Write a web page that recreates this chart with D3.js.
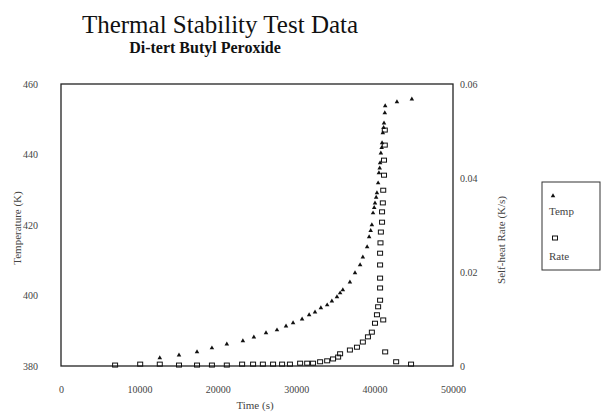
<!DOCTYPE html>
<html>
<head>
<meta charset="utf-8">
<script src="https://cdn.jsdelivr.net/npm/d3@7/dist/d3.min.js"></script>
<style>
	body { margin: 0; background: #fff; }
	text { font-family: "Liberation Serif", "Times New Roman", serif; }
</style>
</head>
<body>
<svg id="chart" width="602" height="414"></svg>
<script>
// values
var tempTime = [12600, 15050, 17350, 19250, 21150, 23200, 24600, 26150, 27550, 28700,
	29600, 30750, 31650, 32400, 33150, 33950, 34550, 35200, 35600, 35950,
	36850, 37500, 38150, 38500, 39050, 39300, 39500, 39650, 39800, 39950,
	40050, 40200, 40300, 40450, 40550, 40650, 40700, 40800, 40900, 40950,
	41050, 41150, 41200, 41300, 41350, 42850, 44750];
var tempK = [382.3, 383.1, 384.0, 385.1, 386.2, 387.1, 388.2, 389.4, 390.2, 391.3,
	392.2, 393.3, 394.5, 395.3, 396.5, 397.3, 398.4, 399.6, 400.7, 401.6,
	403.8, 406.4, 408.7, 410.9, 413.8, 416.6, 418.4, 420.0, 423.4, 424.9,
	426.2, 427.8, 429.1, 431.9, 434.8, 436.1, 437.6, 440.4, 441.9, 443.3,
	446.1, 447.6, 448.9, 451.8, 453.8, 454.9, 455.7];

var rateTime = [6900, 10100, 12600, 15050, 17350, 19250, 21150, 23100, 24500, 25750,
	27050, 28200, 29200, 30500, 31400, 32150, 33050, 33950, 34700, 35350,
	35600, 36850, 37750, 38500, 39150, 39650, 40050, 40300, 40450, 40700,
	40700, 40700, 40700, 40700, 40750, 40800, 40950, 40950, 41050, 41100,
	41200, 41200, 41300, 41300, 41100, 41350, 42750, 44650];
var rateVal = [0.0002, 0.0004, 0.0004, 0.0002, 0.0002, 0.0002, 0.0002, 0.0004, 0.0004, 0.0004,
	0.0004, 0.0004, 0.0004, 0.0006, 0.0006, 0.0006, 0.0009, 0.0011, 0.0015, 0.0019,
	0.0026, 0.0034, 0.0040, 0.0051, 0.0062, 0.0072, 0.0091, 0.0109, 0.0126, 0.0140,
	0.0166, 0.0187, 0.0215, 0.0240, 0.0262, 0.0285, 0.0306, 0.0328, 0.0347, 0.0374,
	0.0406, 0.0438, 0.0470, 0.0502, 0.0098, 0.0030, 0.0009, 0.0004];

var xTicks = [0, 10000, 20000, 30000, 40000, 50000];
var tempTicks = [380, 400, 420, 440, 460];
var rateTicks = [0, 0.02, 0.04, 0.06];
var legendLabels = ["Temp", "Rate"];

var svg = d3.select("#chart");
var plot = { left: 61, top: 84, right: 453, bottom: 366 };

var x = d3.scaleLinear().domain([0, 50000]).range([plot.left, plot.right]);
var yT = d3.scaleLinear().domain([380, 460]).range([plot.bottom, plot.top]);
var yR = d3.scaleLinear().domain([0, 0.06]).range([plot.bottom, plot.top]);

svg.append("rect").attr("width", 602).attr("height", 414).attr("fill", "#fff");

// titles
svg.append("text").attr("x", 220).attr("y", 33).attr("text-anchor", "middle")
	.style("font-size", "25px").attr("fill", "#111").text("Thermal Stability Test Data");
svg.append("text").attr("x", 205).attr("y", 53).attr("text-anchor", "middle")
	.style("font-size", "16px").style("font-weight", "bold").attr("fill", "#111")
	.text("Di-tert Butyl Peroxide");

// axes (no tick marks, only labels)
var styleAxis = function (g) {
	g.select(".domain").remove();
	g.selectAll("line").remove();
	g.selectAll("text").style("font-size", "10px").attr("fill", "#444");
};
svg.append("g").attr("transform", "translate(0," + plot.bottom + ")")
	.call(d3.axisBottom(x).tickValues(xTicks).tickSize(0).tickPadding(20).tickFormat(d3.format("d")))
	.call(styleAxis);
svg.append("g").attr("transform", "translate(" + plot.left + ",0)")
	.call(d3.axisLeft(yT).tickValues(tempTicks).tickSize(0).tickPadding(23).tickFormat(d3.format("d")))
	.call(styleAxis);
svg.append("g").attr("transform", "translate(" + plot.right + ",0)")
	.call(d3.axisRight(yR).tickValues(rateTicks).tickSize(0).tickPadding(7).tickFormat(function (d) { return d === 0 ? "0" : d3.format(".2f")(d); }))
	.call(styleAxis);

// plot frame
svg.append("rect").attr("x", plot.left).attr("y", plot.top)
	.attr("width", plot.right - plot.left).attr("height", plot.bottom - plot.top)
	.attr("fill", "none").attr("stroke", "#222").attr("stroke-width", 1.3);

// axis titles
svg.append("text").attr("x", 255).attr("y", 409).attr("text-anchor", "middle")
	.style("font-size", "11px").attr("fill", "#444").text("Time (s)");
svg.append("text").attr("transform", "translate(21,228) rotate(-90)").attr("text-anchor", "middle")
	.style("font-size", "11px").attr("fill", "#444").text("Temperature (K)");
svg.append("text").attr("transform", "translate(505,240) rotate(-90)").attr("text-anchor", "middle")
	.style("font-size", "11px").attr("fill", "#444").text("Self-heat Rate (K/s)");

// markers
var tri = d3.symbol().type(d3.symbolTriangle).size(9);
svg.append("g").selectAll("path")
	.data(d3.range(tempTime.length))
	.enter().append("path")
	.attr("d", tri)
	.attr("transform", function (i) { return "translate(" + x(tempTime[i]) + "," + yT(tempK[i]) + ")"; })
	.attr("fill", "#111");

svg.append("g").selectAll("rect")
	.data(d3.range(rateTime.length))
	.enter().append("rect")
	.attr("x", function (i) { return x(rateTime[i]) - 2.5; })
	.attr("y", function (i) { return yR(rateVal[i]) - 2; })
	.attr("width", 5).attr("height", 4)
	.attr("fill", "none").attr("stroke", "#111").attr("stroke-width", 1);

// legend
var lg = svg.append("g").attr("transform", "translate(542,182)");
lg.append("rect").attr("width", 58).attr("height", 88)
	.attr("fill", "#fff").attr("stroke", "#333").attr("stroke-width", 1);
lg.append("path").attr("d", tri).attr("transform", "translate(11,14)").attr("fill", "#111");
lg.append("text").attr("x", 7).attr("y", 33).style("font-size", "11px").attr("fill", "#444").text(legendLabels[0]);
lg.append("rect").attr("x", 10.5).attr("y", 54).attr("width", 5).attr("height", 4)
	.attr("fill", "none").attr("stroke", "#111");
lg.append("text").attr("x", 7).attr("y", 78).style("font-size", "11px").attr("fill", "#444").text(legendLabels[1]);
</script>
</body>
</html>
